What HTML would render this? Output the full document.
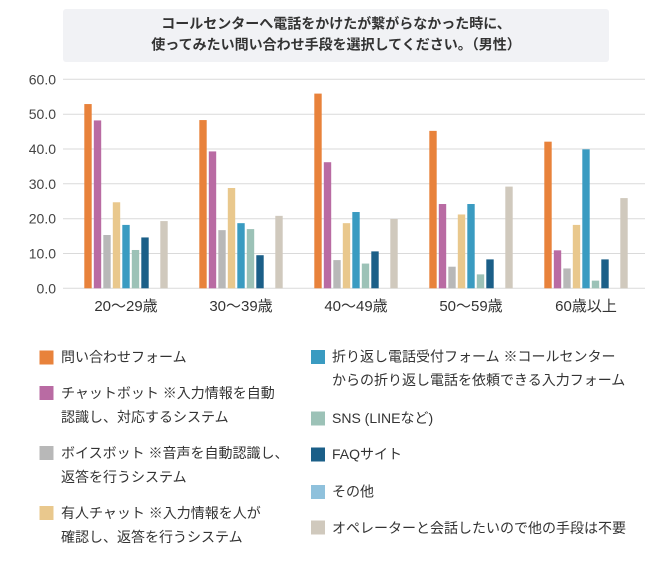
<!DOCTYPE html>
<html><head><meta charset="utf-8">
<style>
html,body{margin:0;padding:0;background:#fff;}
svg{display:block;}
text{font-family:"Liberation Sans","Noto Sans CJK JP",sans-serif;}
</style></head>
<body>
<svg width="671" height="581" viewBox="0 0 671 581" xmlns="http://www.w3.org/2000/svg">
<rect x="0" y="0" width="671" height="581" fill="#fff"/>
<!-- title box -->
<rect x="63" y="9" width="546" height="53" rx="3" fill="#f1f2f5"/>
<text x="336" y="23.5" font-size="14" font-weight="bold" fill="#333" text-anchor="middle" dominant-baseline="central">コールセンターへ電話をかけたが繋がらなかった時に、</text>
<text x="336" y="44.5" font-size="14" font-weight="bold" fill="#333" text-anchor="middle" dominant-baseline="central">使ってみたい問い合わせ手段を選択してください。（男性）</text>

<!-- grid -->
<g stroke="#dadada" stroke-width="1">
<line x1="63" y1="79.3" x2="645" y2="79.3"/>
<line x1="63" y1="114.2" x2="645" y2="114.2"/>
<line x1="63" y1="149" x2="645" y2="149"/>
<line x1="63" y1="183.8" x2="645" y2="183.8"/>
<line x1="63" y1="218.7" x2="645" y2="218.7"/>
<line x1="63" y1="253.5" x2="645" y2="253.5"/>
<line x1="63" y1="288.3" x2="645" y2="288.3"/>
</g>
<g font-size="14" fill="#444" text-anchor="end" dominant-baseline="central">
<text x="56" y="79.3">60.0</text>
<text x="56" y="114.2">50.0</text>
<text x="56" y="149">40.0</text>
<text x="56" y="183.8">30.0</text>
<text x="56" y="218.7">20.0</text>
<text x="56" y="253.5">10.0</text>
<text x="56" y="288.3">0.0</text>
</g>

<!-- bars -->
<g id="bars"></g>
<script>
(function(){
var colors=["#e8823b","#b96ba3","#b8b8b8","#e9c88d","#3a9bc1","#9cc2b7","#1b5f88","#8fc1dc","#d0c9bd"];
var data=[
[52.9,48.2,15.3,24.7,18.2,11.0,14.6,0,19.3],
[48.3,39.3,16.7,28.8,18.7,17.0,9.5,0,20.8],
[55.9,36.2,8.1,18.7,21.9,7.1,10.6,0,19.9],
[45.2,24.2,6.2,21.2,24.2,4.0,8.3,0,29.2],
[42.1,10.9,5.7,18.2,39.9,2.2,8.3,0,25.9]];
var g=document.getElementById("bars");var ns="http://www.w3.org/2000/svg";
for(var i=0;i<5;i++){for(var k=0;k<9;k++){var v=data[i][k];if(v<=0)continue;
var r=document.createElementNS(ns,"rect");var x=84.3+115*i+9.5*k;var y=288.3-v*3.483;
r.setAttribute("x",x);r.setAttribute("y",y);r.setAttribute("width",7.4);r.setAttribute("height",288.3-y);r.setAttribute("fill",colors[k]);g.appendChild(r);}}
})();
</script>

<g font-size="15" fill="#333" text-anchor="middle" dominant-baseline="central">
<text x="126" y="306.5">20〜29歳</text>
<text x="241" y="306.5">30〜39歳</text>
<text x="356" y="306.5">40〜49歳</text>
<text x="471" y="306.5">50〜59歳</text>
<text x="586" y="306.5">60歳以上</text>
</g>

<!-- legend -->
<g font-size="14" fill="#333" dominant-baseline="central">
<rect x="39.5" y="350.5" width="14" height="14" fill="#e8823b"/>
<text x="61" y="357">問い合わせフォーム</text>
<rect x="39.5" y="386" width="14" height="14" fill="#b96ba3"/>
<text x="61" y="393">チャットボット ※入力情報を自動</text>
<text x="61" y="417">認識し、対応するシステム</text>
<rect x="39.5" y="446" width="14" height="14" fill="#b8b8b8"/>
<text x="61" y="453">ボイスボット ※音声を自動認識し、</text>
<text x="61" y="477">返答を行うシステム</text>
<rect x="39.5" y="506" width="14" height="14" fill="#e9c88d"/>
<text x="61" y="513">有人チャット ※入力情報を人が</text>
<text x="61" y="537">確認し、返答を行うシステム</text>

<rect x="311" y="350" width="14" height="14" fill="#3a9bc1"/>
<text x="332" y="356.5">折り返し電話受付フォーム ※コールセンター</text>
<text x="332" y="380">からの折り返し電話を依頼できる入力フォーム</text>
<rect x="311" y="411.5" width="14" height="14" fill="#9cc2b7"/>
<text x="332" y="418">SNS (LINEなど)</text>
<rect x="311" y="447.5" width="14" height="14" fill="#1b5f88"/>
<text x="332" y="454">FAQサイト</text>
<rect x="311" y="485" width="14" height="14" fill="#8fc1dc"/>
<text x="332" y="491.5">その他</text>
<rect x="311" y="520.5" width="14" height="14" fill="#d0c9bd"/>
<text x="332" y="528">オペレーターと会話したいので他の手段は不要</text>
</g>
</svg>
</body></html>
